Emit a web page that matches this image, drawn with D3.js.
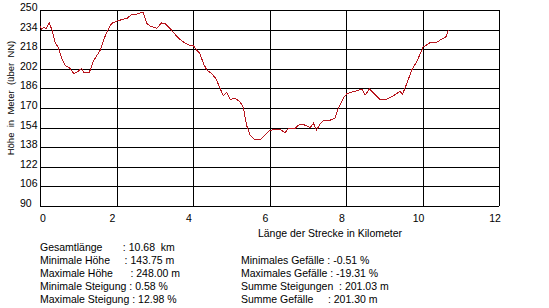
<!DOCTYPE html>
<html>
<head>
<meta charset="utf-8">
<script src="https://cdn.jsdelivr.net/npm/d3@7"></script>
<style>
  body { margin: 0; background: #fff; }
  svg text { font-family: "Liberation Sans", Arial, sans-serif; fill: #000; white-space: pre; }
</style>
</head>
<body>
<div id="chart"></div>
<script>
// profile: distance in km, height in m
const km = [0.00, 0.04, 0.09, 0.16, 0.24, 0.31, 0.39, 0.48, 0.57, 0.65, 0.78, 0.89, 1.00, 1.09, 1.15, 1.29,
  1.39, 1.57, 1.73, 1.87, 2.01, 2.18, 2.27, 2.40, 2.48, 2.57, 2.70, 2.79, 2.88, 3.05, 3.18, 3.27, 3.40, 3.48,
  3.62, 3.79, 3.92, 4.01, 4.10, 4.18, 4.27, 4.36, 4.49, 4.60, 4.71, 4.79, 4.88, 4.97, 5.10, 5.23, 5.32, 5.40,
  5.49, 5.62, 5.75, 5.88, 5.99, 6.14, 6.27, 6.41, 6.49, 6.67, 6.80, 6.93, 7.06, 7.15, 7.23, 7.32, 7.42, 7.58,
  7.71, 7.80, 7.93, 8.02, 8.10, 8.28, 8.41, 8.50, 8.61, 8.76, 8.89, 9.06, 9.24, 9.41, 9.48, 9.59, 9.72, 9.85,
  9.93, 10.02, 10.11, 10.20, 10.37, 10.46, 10.61, 10.68];
const hoehe = [237, 234, 236, 235, 239.5, 234, 224, 219, 210.5, 205, 202.5, 198, 200, 202.5, 199, 199,
  208, 217, 231, 239, 241, 242.5, 243, 246.5, 246, 247.3, 248, 239, 237, 235, 239.5, 239, 235, 232,
  227, 223, 221, 221, 217, 214.5, 206.5, 201, 198, 194, 186, 180, 183, 177, 178, 175, 170, 156,
  148, 144, 144, 148, 151.5, 152.5, 152.5, 150, 153, 153.5, 157, 156, 154, 157.5, 152, 157, 160, 160,
  161.5, 170, 178, 181.5, 182.5, 184, 185.5, 180.5, 185.5, 181, 177, 177, 180, 183.5, 181.5, 190, 201, 208,
  213.5, 220, 221.5, 223.5, 223.5, 225.5, 228, 234];

const yTicks = [90, 106, 122, 138, 154, 170, 186, 202, 218, 234, 250];
const xTicks = [0, 2, 4, 6, 8, 10, 12];

const xTitle = "Länge der Strecke in Kilometer";
const yTitle = "Höhe  in  Meter  (über  NN)";

const statsLeft = [
  "Gesamtlänge       : 10.68  km",
  "Minimale Höhe     : 143.75 m",
  "Maximale Höhe      : 248.00 m",
  "Minimale Steigung : 0.58 %",
  "Maximale Steigung : 12.98 %"
];
const statsRight = [
  "Minimales Gefälle : -0.51 %",
  "Maximales Gefälle : -19.31 %",
  "Summe Steigungen  : 201.03 m",
  "Summe Gefälle     : 201.30 m"
];

const width = 549, height = 308;
const margin = { top: 10, right: 50, bottom: 102, left: 40 };

const svg = d3.select('#chart').append('svg')
  .attr('width', width)
  .attr('height', height);

const x = d3.scaleLinear().domain([0, 12]).range([margin.left, width - margin.right]);
const y = d3.scaleLinear().domain([90, 250]).range([height - margin.bottom, margin.top]);

// grid
const grid = svg.append('g').attr('shape-rendering', 'crispEdges')
  .attr('stroke', '#000').attr('stroke-width', 1);

grid.selectAll('.hl').data(yTicks).join('line')
  .attr('x1', x(0)).attr('x2', x(12))
  .attr('y1', d => Math.round(y(d)) + 0.5).attr('y2', d => Math.round(y(d)) + 0.5);

grid.selectAll('.vl').data(xTicks).join('line')
  .attr('y1', y(250)).attr('y2', y(90))
  .attr('x1', d => Math.round(x(d)) + 0.5).attr('x2', d => Math.round(x(d)) + 0.5);

// tick labels
svg.append('g').selectAll('text').data(yTicks).join('text')
  .attr('x', 20)
  .attr('y', d => y(d) + 1)
  .attr('font-size', 10.5)
  .text(d => d);

svg.append('g').selectAll('text').data(xTicks).join('text')
  .attr('x', d => d === 0 ? x(d) : x(d) - 4)
  .attr('y', 221.5)
  .attr('text-anchor', d => d === 0 ? 'start' : 'middle')
  .attr('font-size', 10.5)
  .text(d => d);

// axis titles
svg.append('text')
  .attr('x', 330).attr('y', 237)
  .attr('text-anchor', 'middle')
  .attr('font-size', 10.5)
  .text(xTitle);

svg.append('text')
  .attr('transform', 'translate(14,98) rotate(-90)')
  .attr('text-anchor', 'middle')
  .attr('font-size', 9.5)
  .text(yTitle);

// profile line (aliased like the original)
const line = d3.line()
  .x(d => x(d[0]))
  .y(d => y(d[1]));

svg.append('path')
  .datum(km.map((k, i) => [k, hoehe[i]]))
  .attr('fill', 'none')
  .attr('stroke', '#b8161e')
  .attr('stroke-width', 1)
  .attr('shape-rendering', 'crispEdges')
  .attr('d', line);

// statistics
svg.append('g').selectAll('text').data(statsLeft).join('text')
  .attr('x', 40)
  .attr('y', (d, i) => 250.5 + i * 13.1)
  .attr('font-size', 10.5)
  .text(d => d);

svg.append('g').selectAll('text').data(statsRight).join('text')
  .attr('x', 241)
  .attr('y', (d, i) => 250.5 + (i + 1) * 13.1)
  .attr('font-size', 10.5)
  .text(d => d);
</script>
</body>
</html>
